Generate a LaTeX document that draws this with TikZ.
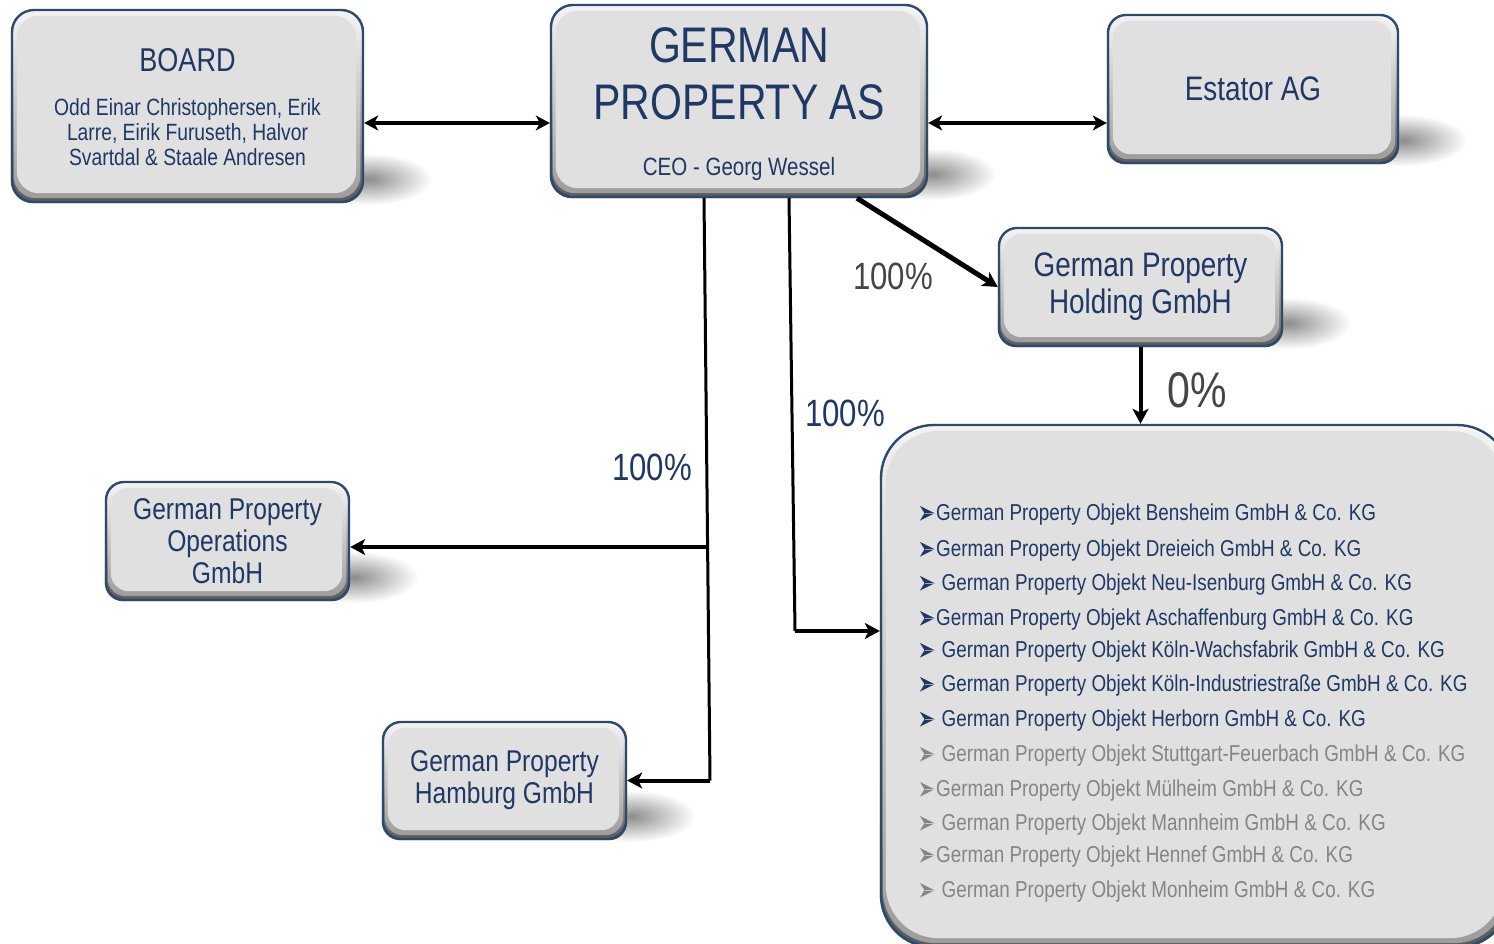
\documentclass[tikz,border=0pt]{standalone}
\usepackage{fontspec}
\setmainfont{Liberation Sans}[FakeStretch=0.82]
\usetikzlibrary{arrows.meta,calc,fadings,backgrounds}

\definecolor{navy}{HTML}{1F3864}
\definecolor{rimblue}{HTML}{2A4A6E}
\definecolor{face}{HTML}{E0E0E0}
\definecolor{mutedgray}{HTML}{858585}
\definecolor{pctgray}{HTML}{454545}

\tikzfading[name=softblob, inner color=transparent!0, outer color=transparent!100]

% soft cast shadow to the lower right of a box
\newcommand\castshadow[1]{%
  \begin{pgfonlayer}{background}
    \fill[black!45, path fading=softblob]
      ($(#1.south east)+(4,-24)$) ellipse [x radius=64pt, y radius=26pt];
  \end{pgfonlayer}}

% bevelled face: light upper rim, dark lower rim, flat grey centre
\newcommand\bevelface[2]{%
  \begin{pgfonlayer}{background}
    \shade[rounded corners=#2pt, top color=white, middle color=black!25, bottom color=black!65]
      (#1.south west) rectangle (#1.north east);
    \shade[rounded corners=#2pt, top color=white!60!face, middle color=black!8!face, bottom color=black!30!face]
      ($(#1.south west)+(3,-5)$) rectangle ($(#1.north east)+(-4,3)$);
    \fill[face, rounded corners=#2pt]
      ($(#1.south west)+(6,-10)$) rectangle ($(#1.north east)+(-8,7)$);
  \end{pgfonlayer}}

\begin{document}
\begin{tikzpicture}[x=1pt, y=-1pt,
  box/.style={draw=rimblue, line width=2.4pt, rounded corners=18pt,
    text=navy, align=center, inner sep=0pt},
  link/.style={line width=3pt, black},
  heavy/.style={line width=4pt, black},
  tip/.style={-{Stealth[length=15pt, width=16pt, inset=4pt]}},
  bothtips/.style={{Stealth[length=14pt, width=15pt, inset=4pt]}-{Stealth[length=14pt, width=15pt, inset=4pt]}},
  pct/.style={font=\fontsize{38}{38}\selectfont, inner sep=0pt},
  item/.style={anchor=base west, inner sep=0pt, font=\fontsize{23}{23}\selectfont}]

\useasboundingbox (0,0) rectangle (1494,944);

% boxes
\node[box, minimum width=351pt, minimum height=192pt, rounded corners=22pt] (board) at (187.5,106) {};
\node[box, minimum width=376pt, minimum height=192pt, rounded corners=22pt] (gpas) at (739,101) {};
\node[box, minimum width=290pt, minimum height=148pt, font=\fontsize{34}{37}\selectfont] (estator) at (1253,89) {Estator AG};
\node[box, minimum width=283pt, minimum height=118pt, font=\fontsize{34}{37}\selectfont] (holding) at (1140.5,287) {German Property\\Holding GmbH};
\node[box, minimum width=243pt, minimum height=118pt, font=\fontsize{30}{32}\selectfont] (ops) at (227.5,541) {German Property\\Operations\\GmbH};
\node[box, minimum width=243pt, minimum height=117pt, font=\fontsize{30}{32}\selectfont] (hamburg) at (504.5,780.5) {German Property\\Hamburg GmbH};
\node[box, minimum width=629pt, minimum height=522pt, rounded corners=53pt] (spv) at (1195.5,686) {};

% texts of the two upper boxes
\node[text=navy, inner sep=0pt, anchor=base, font=\fontsize{33}{33}\selectfont] (boardtitle) at (187.5,72) {BOARD};
\node[text=navy, inner sep=0pt, align=center, font=\fontsize{23.5}{25}\selectfont] (boardmembers) at (187.5,132)
  {Odd Einar Christophersen, Erik\\Larre, Eirik Furuseth, Halvor\\Svartdal \& Staale Andresen};
\node[text=navy, inner sep=0pt, align=center, font=\fontsize{50}{57}\selectfont] (gpastitle) at (739,74) {GERMAN\\PROPERTY AS};
\node[text=navy, inner sep=0pt, anchor=base, font=\fontsize{25}{25}\selectfont] (ceo) at (739,176) {CEO - Georg Wessel};

% shadows and bevels
\castshadow{board}
\castshadow{gpas}
\castshadow{estator}
\castshadow{holding}
\castshadow{ops}
\castshadow{hamburg}
\bevelface{board}{22}
\bevelface{gpas}{22}
\bevelface{estator}{18}
\bevelface{holding}{18}
\bevelface{ops}{18}
\bevelface{hamburg}{18}
\bevelface{spv}{53}

% subsidiaries list, each line led by an arrowhead bullet
\foreach \yy/\xx/\col/\txt [count=\i] in {
  520.5/936/navy/{German Property Objekt Bensheim GmbH \& Co. KG},
  556.5/936/navy/{German Property Objekt Dreieich GmbH \& Co. KG},
  590.5/941.5/navy/{German Property Objekt Neu-Isenburg GmbH \& Co. KG},
  625.5/936/navy/{German Property Objekt Aschaffenburg GmbH \& Co. KG},
  657.5/941.5/navy/{German Property Objekt Köln-Wachsfabrik GmbH \& Co. KG},
  691.5/941.5/navy/{German Property Objekt Köln-Industriestraße GmbH \& Co. KG},
  726.5/941.5/navy/{German Property Objekt Herborn GmbH \& Co. KG},
  761.5/941.5/mutedgray/{German Property Objekt Stuttgart-Feuerbach GmbH \& Co. KG},
  796.5/936/mutedgray/{German Property Objekt Mülheim GmbH \& Co. KG},
  830.5/941.5/mutedgray/{German Property Objekt Mannheim GmbH \& Co. KG},
  862.5/936/mutedgray/{German Property Objekt Hennef GmbH \& Co. KG},
  897.5/941.5/mutedgray/{German Property Objekt Monheim GmbH \& Co. KG}}
{
  \node[item, text=\col] (item\i) at (\xx,\yy) {\txt};
  \fill[\col] ($(920,0 |- item\i.base)+(0,-14.5)$) -- ++(14.5,7.25) -- ++(-14.5,7.25)
    -- ++(4.5,-7.25) -- cycle;
  \draw[white!55!\col, line width=0.6pt] ($(920,0 |- item\i.base)+(4.5,-7.25)$) -- ++(9,0);
}

% connectors
\coordinate (rowA) at (0,123);
\draw[heavy, bothtips] (board.east |- rowA) -- (gpas.west |- rowA);
\draw[heavy, bothtips] (gpas.east |- rowA) -- (estator.west |- rowA);
\draw[line width=5pt, tip] ([xshift=118]gpas.south) -- (holding.west);
\draw[heavy, tip] (holding.south) -- (holding.south |- spv.north);

\coordinate (a0) at ([xshift=-35]gpas.south);
\coordinate (a1) at (710,780.5);
\coordinate (a2) at (707.6,547);
\draw[link] (a0) -- (a1);
\draw[heavy, tip] (a1) -- (hamburg.east);
\draw[heavy, tip] (a2) -- (ops.east |- a2);

\coordinate (b0) at ([xshift=50]gpas.south);
\coordinate (b1) at (795,631);
\draw[link] (b0) -- (b1);
\draw[heavy, tip] (b1) -- (spv.west |- b1);

% ownership shares
\node[pct, text=navy] (pctops) at (652,467) {100\%};
\node[pct, text=navy] (pctspv) at (845,413) {100\%};
\node[pct, text=pctgray] (pctholding) at (893,276) {100\%};
\node[text=pctgray, inner sep=0pt, font=\fontsize{50}{50}\selectfont] (pctzero) at (1197,390) {0\%};

\end{tikzpicture}
\end{document}
